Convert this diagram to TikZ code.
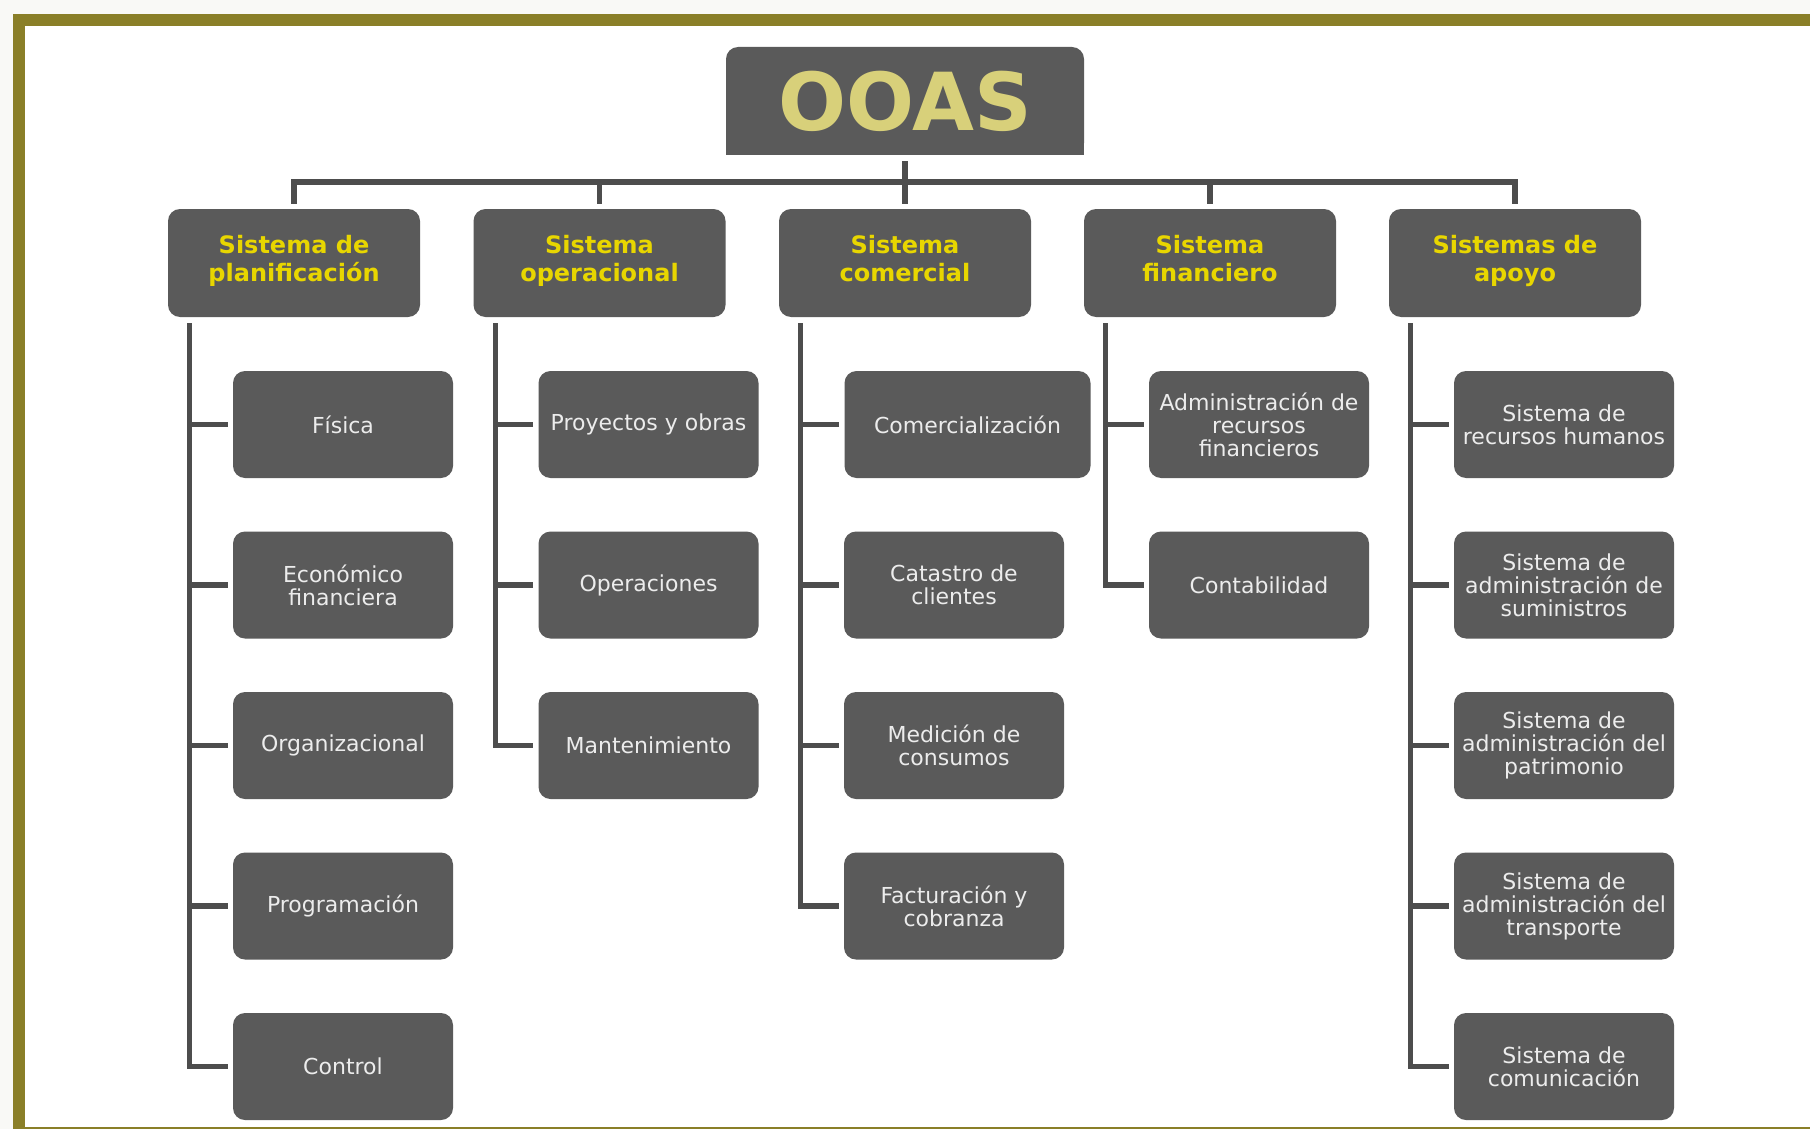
\documentclass[tikz,border=0pt]{standalone}
\usepackage{fontspec}
\setmainfont{DejaVu Sans}
\definecolor{pagebg}{RGB}{249,249,246}
\definecolor{frameolive}{RGB}{138,127,40}
\definecolor{boxgray}{RGB}{90,90,90}
\definecolor{linegray}{RGB}{77,77,77}
\definecolor{rootyellow}{RGB}{216,208,122}
\definecolor{headyellow}{RGB}{232,214,0}
\definecolor{leafwhite}{RGB}{236,236,236}
\tikzset{rootbox/.style={fill=boxgray, minimum width=179pt, minimum height=54pt,
        rounded corners=6pt, text=rootyellow, font=\bfseries\fontsize{40}{44}\selectfont},
    headbox/.style={fill=boxgray, minimum width=126pt, minimum height=54pt,
        rounded corners=6pt, align=center, text=headyellow,
        font=\bfseries\fontsize{12}{14}\selectfont,
        execute at begin node=\strut, execute at end node=\strut},
    leafbox/.style={fill=boxgray, minimum width=110pt, minimum height=53.5pt,
        rounded corners=6pt, align=center, inner sep=2pt, text=leafwhite,
        font=\fontsize{11}{11.5}\selectfont},
    conn/.style={draw=linegray, line width=2.6pt},
    }

\begin{document}
\begin{tikzpicture}[x=0.5pt,y=-0.5pt]
	\useasboundingbox (0,0) rectangle (1810,1129);
	% frame
	\fill[pagebg] (0,0) rectangle (1810,1129);
	\fill[frameolive] (13,14) rectangle (1810,1129);
	\fill[white] (25,26) rectangle (1810,1127);
	% top level
	\node[rootbox] (root) at (905,101) {OOAS};
	\fill[boxgray] (root.south west) rectangle ++(8pt,8pt);
	\fill[boxgray] (root.south east) rectangle ++(-8pt,8pt);
	\node[headbox] (hA) at (294,263) {Sistema de\\planificación};
	\node[headbox] (hB) at (599.5,263) {Sistema\\operacional};
	\node[headbox] (hC) at (905,263) {Sistema\\comercial};
	\node[headbox] (hD) at (1210,263) {Sistema\\financiero};
	\node[headbox] (hE) at (1515,263) {Sistemas de\\apoyo};
	\coordinate (bar) at (905,182);
	\draw[conn] ([yshift=2.5pt]hA.north) -- (hA.north |- bar) -- (hE.north |- bar) -- ([yshift=2.5pt]hE.north);
	\draw[conn] ([yshift=-3pt]root.south) -- ([yshift=2.5pt]hC.north);
	\foreach \h in {hB,hD}
		\draw[conn] (\h.north |- bar) -- ([yshift=2.5pt]\h.north);
	% planificacion
	\foreach \txt [count=\i] in {{Física},{Económico\\financiera},{Organizacional},{Programación},{Control}}
		\node[leafbox] (cA\i) at (343,264+160.5*\i) {\txt};
	\draw[conn] ([xshift=11pt,yshift=-3pt]hA.south west) |- ([xshift=-2.5pt]cA5.west);
	\foreach \i in {1,...,4}
		\draw[conn] ([xshift=-2.5pt]cA\i.west) -- ([xshift=11pt]hA.south west |- cA\i.west);
	% operacional
	\foreach \txt [count=\i] in {{Proyectos y obras},{Operaciones},{Mantenimiento}}
		\node[leafbox] (cB\i) at (648.5,264+160.5*\i) {\txt};
	\draw[conn] ([xshift=11pt,yshift=-3pt]hB.south west) |- ([xshift=-2.5pt]cB3.west);
	\foreach \i in {1,2}
		\draw[conn] ([xshift=-2.5pt]cB\i.west) -- ([xshift=11pt]hB.south west |- cB\i.west);
	% comercial
	\node[leafbox,minimum width=123pt] (cC1) at (967.5,424.5) {Comercialización};
	\foreach \txt [count=\i from 2] in {{Catastro de\\clientes},{Medición de\\consumos},{Facturación y\\cobranza}}
		\node[leafbox] (cC\i) at (954,264+160.5*\i) {\txt};
	\draw[conn] ([xshift=11pt,yshift=-3pt]hC.south west) |- ([xshift=-2.5pt]cC4.west);
	\foreach \i in {1,2,3}
		\draw[conn] ([xshift=-2.5pt]cC\i.west) -- ([xshift=11pt]hC.south west |- cC\i.west);
	% financiero
	\foreach \txt [count=\i] in {{Administración de\\recursos\\financieros},{Contabilidad}}
		\node[leafbox] (cD\i) at (1259,264+160.5*\i) {\txt};
	\draw[conn] ([xshift=11pt,yshift=-3pt]hD.south west) |- ([xshift=-2.5pt]cD2.west);
	\draw[conn] ([xshift=-2.5pt]cD1.west) -- ([xshift=11pt]hD.south west |- cD1.west);
	% apoyo
	\foreach \txt [count=\i] in {{Sistema de\\recursos humanos},{Sistema de\\administración de\\suministros},%
			{Sistema de\\administración del\\patrimonio},{Sistema de\\administración del\\transporte},{Sistema de\\comunicación}}
		\node[leafbox] (cE\i) at (1564,264+160.5*\i) {\txt};
	\draw[conn] ([xshift=11pt,yshift=-3pt]hE.south west) |- ([xshift=-2.5pt]cE5.west);
	\foreach \i in {1,...,4}
		\draw[conn] ([xshift=-2.5pt]cE\i.west) -- ([xshift=11pt]hE.south west |- cE\i.west);
\end{tikzpicture}
\end{document}
